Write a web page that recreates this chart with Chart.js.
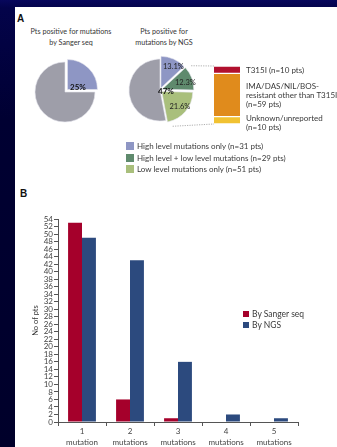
<!DOCTYPE html>
<html>
<head>
<meta charset="utf-8">
<script src="https://cdn.jsdelivr.net/npm/chart.js@4/dist/chart.umd.min.js"></script>
<style>
  html, body { margin: 0; padding: 0; }
  body {
    width: 337px; height: 447px; overflow: hidden; position: relative;
    background: linear-gradient(#07075c 0px, #03034a 8px, #000032 120px, #00002a 447px);
    font-family: Lato, "Open Sans", sans-serif;
  }
  #panel { position: absolute; left: 15px; top: 7px; width: 322px; height: 440px; background: #fff; }
  canvas { position: absolute; }
  .txt { position: absolute; white-space: nowrap; color: #363636; }
  .letter { font-family: "Liberation Sans", Arial, sans-serif; font-weight: bold; font-size: 10px; color: #111; line-height: 12px; }
  .title { font-size: 7.2px; line-height: 11px; text-align: center; }
  .leg { position: absolute; font-size: 8px; line-height: 10px; color: #3a3a3a; white-space: nowrap; }
  .sw { position: absolute; }
</style>
</head>
<body>
<div id="panel"></div>

<div class="txt letter" style="left:17px;top:13px;">A</div>
<div class="txt letter" style="left:20px;top:188px;">B</div>

<div class="txt title" style="left:21px;top:26px;width:100px;">Pts positive for mutations<br>by Sanger seq</div>
<div class="txt title" style="left:114px;top:26px;width:100px;">Pts positive for<br>mutations by NGS</div>

<canvas id="pieSanger" width="100" height="100" style="left:15px;top:42px;width:100px;height:100px;"></canvas>
<canvas id="pieNgs" width="100" height="100" style="left:110px;top:40px;width:100px;height:100px;"></canvas>
<canvas id="links" width="120" height="90" style="left:140px;top:50px;width:120px;height:90px;"></canvas>
<canvas id="stack" width="26" height="58" style="left:214px;top:66px;width:26px;height:58px;"></canvas>
<div id="stackLegend"></div>
<div id="pieLegend"></div>

<canvas id="bars" width="290" height="238" style="left:20px;top:209px;width:290px;height:238px;"></canvas>
<div id="barLegend"></div>

<script>
// ---- Panel A: share of patients with mutations ----
const sangerPieLabels = ['Positive', 'Negative'];
const sangerPieValues = [25, 75];
const sangerPieColors = ['#8e96c4', '#9e9ea9'];

const ngsPieLabels = ['High level mutations only (n=31 pts)', 'High level + low level mutations (n=29 pts)', 'Low level mutations only (n=51 pts)', 'Negative'];
const ngsPieValues = [13.1, 12.3, 21.6, 53.0];
const ngsPieColors = ['#8e96c4', '#5f8a6d', '#a9bf7c', '#9e9ea9'];

// breakdown column, listed bottom to top
const stackLabels = [['Unknown/unreported', '(n=10 pts)'], ['IMA/DAS/NIL/BOS-', 'resistant other than T315I', '(n=59 pts)'], ['T315I (n=10 pts)']];
const stackValues = [10, 59, 10];
const stackColors = ['#f1c232', '#e08b1c', '#b1102f'];

// ---- Panel B: number of mutations per patient ----
const mutationCategories = [['1', 'mutation'], ['2', 'mutations'], ['3', 'mutations'], ['4', 'mutations'], ['5', 'mutations']];
const sangerCounts = [53, 6, 1, 0, 0];
const ngsCounts = [49, 43, 16, 2, 1];
const barSeriesLabels = ['By Sanger seq', 'By NGS'];
const barSeriesColors = ['#a5002b', '#2c4a7e'];
const yAxisMax = 54;
const yAxisStep = 2;

const pct = v => (Math.round(v * 10) / 10).toFixed(v % 1 === 0 ? 0 : 1) + '%';

// text labels placed on the pie slices
const sliceLabels = {
  id: 'sliceLabels',
  afterDatasetsDraw(chart, args, opts) {
    const ctx = chart.ctx;
    const meta = chart.getDatasetMeta(0);
    const ds = chart.data.datasets[0];
    (opts.items || []).forEach(it => {
      const arc = meta.data[it.index];
      let x = arc.x, y = arc.y;
      if (it.radial !== undefined) {
        const mid = (arc.startAngle + arc.endAngle) / 2;
        const off = Array.isArray(ds.offset) ? ds.offset[it.index] : 0;
        const d = off + arc.outerRadius * it.radial;
        x += Math.cos(mid) * d; y += Math.sin(mid) * d;
      }
      x += it.dx || 0; y += it.dy || 0;
      ctx.save();
      ctx.font = it.font;
      ctx.fillStyle = it.color || '#222';
      ctx.textAlign = 'center';
      ctx.textBaseline = 'middle';
      ctx.fillText(it.text, x, y);
      ctx.restore();
    });
  }
};

const pieBase = (radius, items) => ({
  responsive: false,
  animation: false,
  radius: radius,
  layout: { padding: 0 },
  plugins: { legend: { display: false }, tooltip: { enabled: false }, sliceLabels: { items } }
});

const pieSanger = new Chart(document.getElementById('pieSanger'), {
  type: 'pie',
  data: {
    labels: sangerPieLabels,
    datasets: [{ data: sangerPieValues, backgroundColor: sangerPieColors, borderWidth: 0.6, borderColor: '#e6e6ee', offset: [14, 0] }]
  },
  options: pieBase(30, [
    { index: 1, text: pct(sangerPieValues[0]), font: 'bold 8px Lato, sans-serif', dx: 13, dy: -5, color: '#111' }
  ]),
  plugins: [sliceLabels]
});

const positiveShare = ngsPieValues[0] + ngsPieValues[1] + ngsPieValues[2];
const pieNgs = new Chart(document.getElementById('pieNgs'), {
  type: 'pie',
  data: {
    labels: ngsPieLabels,
    datasets: [{ data: ngsPieValues, backgroundColor: ngsPieColors, borderWidth: 0.6, borderColor: '#e6e6ee', offset: [9, 9, 9, 0] }]
  },
  options: pieBase(31, [
    { index: 0, radial: 0.55, text: pct(ngsPieValues[0]), font: '7.5px Lato, sans-serif', dx: 3 },
    { index: 1, radial: 0.55, text: pct(ngsPieValues[1]), font: '7.5px Lato, sans-serif', dx: 1, dy: 2 },
    { index: 2, radial: 0.55, text: pct(ngsPieValues[2]), font: '7.5px Lato, sans-serif' },
    { index: 3, text: pct(positiveShare), font: 'bold 8px Lato, sans-serif', dx: 6, dy: 1, color: '#111' }
  ]),
  plugins: [sliceLabels]
});

const stack = new Chart(document.getElementById('stack'), {
  type: 'bar',
  data: {
    labels: [''],
    datasets: stackValues.map((v, i) => ({
      label: stackLabels[i].join(' '),
      data: [v],
      backgroundColor: stackColors[i],
      borderColor: '#ffffff',
      borderWidth: { top: 1, bottom: 1, left: 0, right: 0 },
      borderSkipped: false,
      barPercentage: 1,
      categoryPercentage: 1
    }))
  },
  options: {
    responsive: false,
    animation: false,
    layout: { padding: 0 },
    plugins: { legend: { display: false }, tooltip: { enabled: false } },
    scales: {
      x: { stacked: true, display: false },
      y: { stacked: true, display: false, min: 0, max: stackValues.reduce((a, b) => a + b, 0) }
    }
  }
});

// dotted connectors from the positive slices to the breakdown column
(function drawConnectors() {
  const ov = document.getElementById('links');
  const ctx = ov.getContext('2d');
  const ovR = ov.getBoundingClientRect();
  const pR = pieNgs.canvas.getBoundingClientRect();
  const sR = stack.canvas.getBoundingClientRect();
  const meta = pieNgs.getDatasetMeta(0);
  const offs = pieNgs.data.datasets[0].offset;
  const edge = (i, angle) => {
    const a = meta.data[i];
    const mid = (a.startAngle + a.endAngle) / 2;
    return [
      pR.left - ovR.left + a.x + Math.cos(mid) * offs[i] + Math.cos(angle) * a.outerRadius,
      pR.top - ovR.top + a.y + Math.sin(mid) * offs[i] + Math.sin(angle) * a.outerRadius
    ];
  };
  const bar = stack.getDatasetMeta(stackValues.length - 1).data[0];
  const colLeft = sR.left - ovR.left + bar.x - bar.width / 2;
  const colTop = sR.top - ovR.top + stack.scales.y.getPixelForValue(stack.scales.y.max);
  const colBottom = sR.top - ovR.top + stack.scales.y.getPixelForValue(0);
  const p1 = edge(1, meta.data[1].startAngle);
  const p2 = edge(2, meta.data[2].endAngle);
  ctx.strokeStyle = '#9a9a9a';
  ctx.lineWidth = 0.8;
  ctx.setLineDash([1.2, 1.2]);
  ctx.beginPath();
  ctx.moveTo(p1[0], p1[1]); ctx.lineTo(colLeft, colTop);
  ctx.moveTo(p2[0], p2[1]); ctx.lineTo(colLeft, colBottom);
  ctx.stroke();
})();

// legends for panel A
(function legendsA() {
  const stackBox = document.getElementById('stackLegend');
  const stackRows = [[70], [86, 95, 104], [118, 127]]; // line centres, top to bottom groups
  const topDown = stackLabels.slice().reverse();
  topDown.forEach((lines, g) => {
    lines.forEach((t, k) => {
      const d = document.createElement('div');
      d.className = 'leg';
      d.style.left = '246px';
      d.style.top = (stackRows[g][k] - 5) + 'px';
      d.textContent = t;
      stackBox.appendChild(d);
    });
  });
  const pieBox = document.getElementById('pieLegend');
  [146, 157.5, 169].forEach((cy, i) => {
    const s = document.createElement('div');
    s.className = 'sw';
    s.style.cssText = `left:126px;top:${cy - 4}px;width:8px;height:8px;background:${ngsPieColors[i]};`;
    pieBox.appendChild(s);
    const d = document.createElement('div');
    d.className = 'leg';
    d.style.left = '137px';
    d.style.top = (cy - 5) + 'px';
    d.textContent = ngsPieLabels[i];
    pieBox.appendChild(d);
  });
})();

// ---- Panel B bar chart ----
const bars = new Chart(document.getElementById('bars'), {
  type: 'bar',
  data: {
    labels: mutationCategories,
    datasets: [
      { label: barSeriesLabels[0], data: sangerCounts, backgroundColor: barSeriesColors[0], borderWidth: 0 },
      { label: barSeriesLabels[1], data: ngsCounts, backgroundColor: barSeriesColors[1], borderWidth: 0 }
    ]
  },
  options: {
    responsive: false,
    animation: false,
    layout: { padding: { top: 10, right: 12, left: 0, bottom: 0 } },
    plugins: { legend: { display: false }, tooltip: { enabled: false } },
    datasets: { bar: { barPercentage: 1, categoryPercentage: 0.58 } },
    scales: {
      x: {
        grid: { offset: true, drawOnChartArea: false, tickLength: 4, color: '#555' },
        border: { color: '#555', width: 1 },
        ticks: { font: { family: 'Lato', size: 8, lineHeight: 1.4 }, color: '#444', padding: 0, maxRotation: 0, autoSkip: false },
        afterFit(s) { s.height = 25; }
      },
      y: {
        min: 0,
        max: yAxisMax,
        ticks: { stepSize: yAxisStep, autoSkip: false, font: { family: 'Lato', size: 8 }, color: '#444', padding: 1 },
        grid: { drawOnChartArea: false, tickLength: 4, color: '#555' },
        border: { color: '#555', width: 1 },
        title: { display: true, text: 'No of pts', font: { family: 'Lato', size: 7.5 }, color: '#333', padding: { top: 11, bottom: 0 } },
        afterFit(s) { s.width = 38; }
      }
    }
  }
});

(function legendB() {
  const box = document.getElementById('barLegend');
  [314, 325].forEach((cy, i) => {
    const s = document.createElement('div');
    s.className = 'sw';
    s.style.cssText = `left:243px;top:${cy - 3}px;width:6px;height:6px;background:${barSeriesColors[i]};`;
    box.appendChild(s);
    const d = document.createElement('div');
    d.className = 'leg';
    d.style.fontSize = '8.5px';
    d.style.left = '252px';
    d.style.top = (cy - 5) + 'px';
    d.textContent = barSeriesLabels[i];
    box.appendChild(d);
  });
})();
</script>
</body>
</html>
